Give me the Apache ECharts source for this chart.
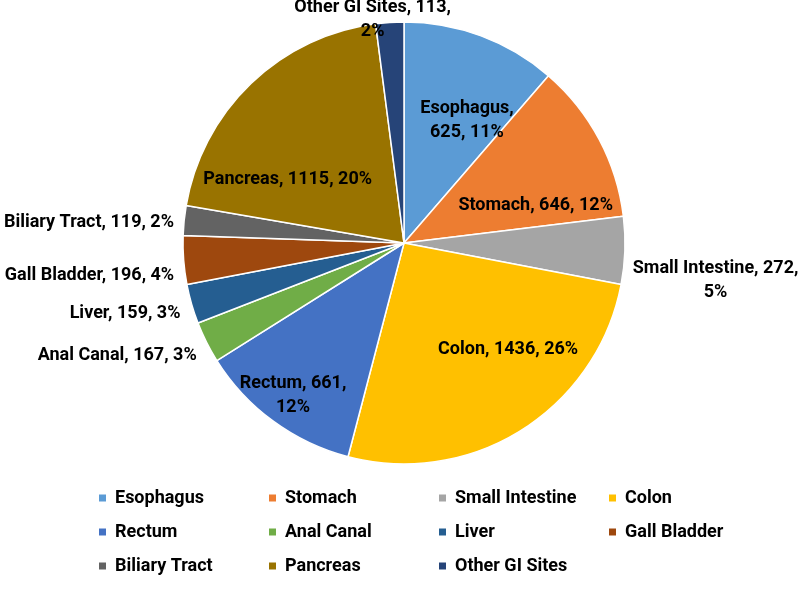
<!DOCTYPE html>
<html>
<head>
<meta charset="utf-8">
<script src="https://cdn.jsdelivr.net/npm/echarts@6/dist/echarts.min.js"></script>
<style>
  html, body { margin: 0; padding: 0; background: #fff; }
  #chart { width: 800px; height: 608px; }
</style>
</head>
<body>
<div id="chart"></div>
<script>
// data
let sites = ['Esophagus', 'Stomach', 'Small Intestine', 'Colon', 'Rectum', 'Anal Canal',
  'Liver', 'Gall Bladder', 'Biliary Tract', 'Pancreas', 'Other GI Sites'];
let counts = [625, 646, 272, 1436, 661, 167, 159, 196, 119, 1115, 113];
let colors = ['#5B9BD5', '#ED7D31', '#A5A5A5', '#FFC000', '#4472C4', '#70AD47',
  '#255E91', '#9E480E', '#636363', '#997300', '#264478'];

// where the label line breaks: after name / after value / none
let labelBreak = ['name', '', 'value', '', 'value', '', '', '', '', '', 'value'];
// label placement: shift from the slice bisector (deg), radius fraction, text align
let labelShift = [6.7, 12, 4.9, -12, -0.3, -1.9, -1.4, -3.5, -0.7, -17.5, -4.3];
let labelRad = [0.625, 0.62, 1.42, 0.675, 0.855, 1.068, 1.06, 1.05, 1.045, 0.6, 1.02];
let labelAlign = ['center', 'center', 'center', 'center', 'center', 'right', 'right', 'right', 'right', 'center', 'center'];

const FONT = "Roboto, 'DejaVu Sans Condensed', sans-serif";
const CX = 404, CY = 243, R = 221;

let total = counts.reduce((a, b) => a + b, 0);
let midAngle = [];
let acc = 0;
for (let i = 0; i < counts.length; i++) {
  midAngle.push((acc + counts[i] / 2) / total * 360);
  acc += counts[i];
}

let pieData = sites.map((s, i) => ({
  name: s,
  value: counts[i],
  itemStyle: { color: colors[i] }
}));

var chart = echarts.init(document.getElementById('chart'));
chart.setOption({
  backgroundColor: '#fff',
  animation: false,
  legend: {
    data: sites,
    left: 92,
    top: 481,
    width: 700,
    orient: 'horizontal',
    icon: 'rect',
    itemWidth: 9,
    itemHeight: 9,
    itemGap: 10,
    textStyle: {
      fontFamily: FONT,
      fontWeight: 'bold',
      fontSize: 18,
      color: '#000',
      width: 142,
      height: 24,
      lineHeight: 24,
      padding: [0, 0, 0, 3]
    }
  },
  series: [{
    type: 'pie',
    center: [CX, CY],
    radius: R,
    startAngle: 90,
    clockwise: true,
    percentPrecision: 0,
    avoidLabelOverlap: false,
    itemStyle: { borderColor: '#fff', borderWidth: 1.5 },
    label: {
      show: true,
      position: 'inside',
      color: '#000',
      fontFamily: FONT,
      fontWeight: 'bold',
      fontSize: 18,
      lineHeight: 24,
      formatter: function (p) {
        let b = labelBreak[p.dataIndex];
        if (b === 'name') return p.name + ',\n' + p.value + ', ' + p.percent + '%';
        if (b === 'value') return p.name + ', ' + p.value + ',\n' + p.percent + '%';
        return p.name + ', ' + p.value + ', ' + p.percent + '%';
      }
    },
    labelLine: { show: false },
    labelLayout: function (params) {
      let i = params.dataIndex;
      let a = (midAngle[i] + labelShift[i]) * Math.PI / 180;
      let r = labelRad[i] * R;
      return {
        x: CX + r * Math.sin(a),
        y: CY - r * Math.cos(a),
        align: labelAlign[i],
        verticalAlign: 'middle'
      };
    },
    data: pieData
  }]
});
</script>
</body>
</html>
